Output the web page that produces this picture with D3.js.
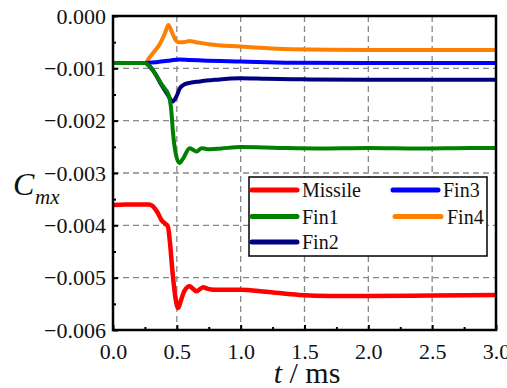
<!DOCTYPE html>
<html>
<head>
<meta charset="utf-8">
<script src="https://cdn.jsdelivr.net/npm/d3@7"></script>
<style>
  html, body { margin: 0; padding: 0; background: #fff; }
  svg { display: block; }
</style>
</head>
<body>
<svg id="chart" width="507" height="388"></svg>
<script>
// Rolling-moment coefficient histories (values in units of 1e-3)
const tMissile = [0, 0.10, 0.20, 0.28, 0.31, 0.35, 0.38, 0.41, 0.43, 0.445, 0.467, 0.49, 0.511, 0.53, 0.56, 0.60, 0.63, 0.655, 0.68, 0.707, 0.74, 0.785, 0.9, 1.0, 1.2, 1.46, 1.7, 2.0, 2.5, 3.0];
const missile  = [-3.61, -3.60, -3.60, -3.60, -3.63, -3.76, -3.90, -3.97, -4.02, -4.30, -4.91, -5.40, -5.58, -5.45, -5.25, -5.165, -5.22, -5.26, -5.22, -5.185, -5.21, -5.23, -5.23, -5.23, -5.27, -5.33, -5.35, -5.35, -5.34, -5.33];

const tFin1 = [0, 0.15, 0.25, 0.29, 0.33, 0.38, 0.41, 0.43, 0.445, 0.456, 0.47, 0.49, 0.52, 0.55, 0.60, 0.63, 0.655, 0.694, 0.73, 0.76, 0.85, 1.0, 1.3, 1.6, 2.0, 2.4, 2.8, 3.0];
const fin1  = [-0.90, -0.90, -0.90, -0.97, -1.10, -1.30, -1.40, -1.48, -1.60, -1.79, -2.23, -2.61, -2.81, -2.72, -2.525, -2.56, -2.59, -2.525, -2.54, -2.545, -2.53, -2.505, -2.52, -2.53, -2.52, -2.53, -2.52, -2.52];

const tFin2 = [0, 0.15, 0.25, 0.29, 0.33, 0.38, 0.43, 0.467, 0.50, 0.524, 0.55, 0.587, 0.68, 0.8, 1.0, 1.2, 1.5, 2.0, 3.0];
const fin2  = [-0.90, -0.90, -0.90, -0.97, -1.10, -1.32, -1.51, -1.635, -1.52, -1.38, -1.32, -1.285, -1.25, -1.22, -1.19, -1.20, -1.21, -1.22, -1.22];

const tFin3 = [0, 0.25, 0.35, 0.45, 0.52, 0.6, 0.7, 1.0, 1.4, 2.0, 3.0];
const fin3  = [-0.90, -0.90, -0.88, -0.85, -0.83, -0.84, -0.85, -0.87, -0.895, -0.90, -0.90];

const tFin4 = [0, 0.25, 0.29, 0.33, 0.37, 0.41, 0.433, 0.46, 0.49, 0.51, 0.55, 0.60, 0.65, 0.75, 1.0, 1.4, 2.0, 3.0];
const fin4  = [-0.90, -0.90, -0.78, -0.66, -0.52, -0.31, -0.17, -0.30, -0.46, -0.50, -0.50, -0.48, -0.50, -0.54, -0.585, -0.635, -0.65, -0.65];

const xTicks = [0, 0.5, 1.0, 1.5, 2.0, 2.5, 3.0];
const yTicks = [0, -0.001, -0.002, -0.003, -0.004, -0.005, -0.006];
const xMinor = [0.25, 0.75, 1.25, 1.75, 2.25, 2.75];
const yMinor = [-0.0005, -0.0015, -0.0025, -0.0035, -0.0045, -0.0055];

const seriesNames  = ["Missile", "Fin1", "Fin2", "Fin3", "Fin4"];
const seriesColors = { Missile: "#ff0000", Fin1: "#008000", Fin2: "#000080", Fin3: "#0000ff", Fin4: "#ff8000" };

const series = {
  Missile: tMissile.map((t, i) => [t, missile[i] * 1e-3]),
  Fin1: tFin1.map((t, i) => [t, fin1[i] * 1e-3]),
  Fin2: tFin2.map((t, i) => [t, fin2[i] * 1e-3]),
  Fin3: tFin3.map((t, i) => [t, fin3[i] * 1e-3]),
  Fin4: tFin4.map((t, i) => [t, fin4[i] * 1e-3])
};

const FONT = "Liberation Serif";
const svg = d3.select("#chart");
const L = 113, R = 496, T = 16, B = 330;

const x = d3.scaleLinear().domain([0, 3]).range([L, R]);
const y = d3.scaleLinear().domain([-0.006, 0]).range([B, T]);

// dashed grid
const grid = svg.append("g").attr("stroke", "#888").attr("stroke-width", 1.3).attr("stroke-dasharray", "6,4");
xTicks.slice(1, -1).forEach(v => grid.append("line").attr("x1", x(v)).attr("x2", x(v)).attr("y1", T).attr("y2", B));
yTicks.slice(1, -1).forEach(v => grid.append("line").attr("x1", L).attr("x2", R).attr("y1", y(v)).attr("y2", y(v)));

// curves
svg.append("clipPath").attr("id", "plot").append("rect").attr("x", L).attr("y", T).attr("width", R - L).attr("height", B - T);
const line = d3.line().x(d => x(d[0])).y(d => y(d[1])).curve(d3.curveMonotoneX);
const drawOrder = ["Missile", "Fin4", "Fin3", "Fin2", "Fin1"];
svg.append("g").attr("clip-path", "url(#plot)")
  .selectAll("path").data(drawOrder).join("path")
  .attr("d", k => line(series[k]))
  .attr("fill", "none")
  .attr("stroke", k => seriesColors[k])
  .attr("stroke-width", k => k === "Missile" ? 4.5 : 4)
  .attr("stroke-linejoin", "round")
  .attr("stroke-linecap", "round");

// axes with inward ticks
const fs = 22;
const xAxis = svg.append("g").attr("transform", `translate(0,${B})`)
  .call(d3.axisBottom(x).tickValues(xTicks).tickSize(-5).tickPadding(13).tickFormat(d3.format(".1f")));
const xAxisMinor = svg.append("g").attr("transform", `translate(0,${B})`)
  .call(d3.axisBottom(x).tickValues(xMinor).tickSize(-3).tickFormat(""));
const yAxis = svg.append("g").attr("transform", `translate(${L},0)`)
  .call(d3.axisLeft(y).tickValues(yTicks).tickSize(-5).tickPadding(7).tickFormat(d3.format(".3f")));
const yAxisMinor = svg.append("g").attr("transform", `translate(${L},0)`)
  .call(d3.axisLeft(y).tickValues(yMinor).tickSize(-3).tickFormat(""));

[xAxis, xAxisMinor, yAxis, yAxisMinor].forEach(g => {
  g.select(".domain").remove();
  g.selectAll(".tick line").attr("stroke", "#000").attr("stroke-width", 2);
  g.selectAll(".tick text").style("font-family", FONT).style("font-size", fs + "px").attr("fill", "#111");
});

// frame
svg.append("rect").attr("x", L).attr("y", T).attr("width", R - L).attr("height", B - T)
  .attr("fill", "none").attr("stroke", "#000").attr("stroke-width", 2.5);

// legend
const legend = svg.append("g");
legend.append("rect").attr("x", 249).attr("y", 177).attr("width", 238).attr("height", 79)
  .attr("fill", "#fff").attr("stroke", "#000").attr("stroke-width", 1.5);
const legendPos = {
  Missile: { x1: 252, x2: 297, tx: 302, y: 190 },
  Fin1:    { x1: 252, x2: 297, tx: 302, y: 216.5 },
  Fin2:    { x1: 252, x2: 297, tx: 302, y: 242 },
  Fin3:    { x1: 393, x2: 438, tx: 443, y: 190 },
  Fin4:    { x1: 395, x2: 441, tx: 447, y: 216.5 }
};
seriesNames.forEach(k => {
  const p = legendPos[k];
  legend.append("line").attr("x1", p.x1).attr("x2", p.x2).attr("y1", p.y).attr("y2", p.y)
    .attr("stroke", seriesColors[k]).attr("stroke-width", 5).attr("stroke-linecap", "round");
  legend.append("text").attr("x", p.tx).attr("y", p.y + 7)
    .style("font-family", FONT).style("font-size", "20px").attr("fill", "#111").text(k);
});

// axis titles
const xt = svg.append("text").attr("x", 307).attr("y", 383).attr("text-anchor", "middle")
  .style("font-family", FONT).style("font-size", "30px").attr("fill", "#111");
xt.append("tspan").style("font-style", "italic").text("t");
xt.append("tspan").text(" / ms");

svg.append("text").attr("x", 13).attr("y", 195)
  .style("font-family", FONT).style("font-size", "32px").style("font-style", "italic").attr("fill", "#111").text("C");
svg.append("text").attr("x", 35).attr("y", 204)
  .style("font-family", FONT).style("font-size", "21px").style("font-style", "italic").attr("fill", "#111").text("mx");
</script>
</body>
</html>
